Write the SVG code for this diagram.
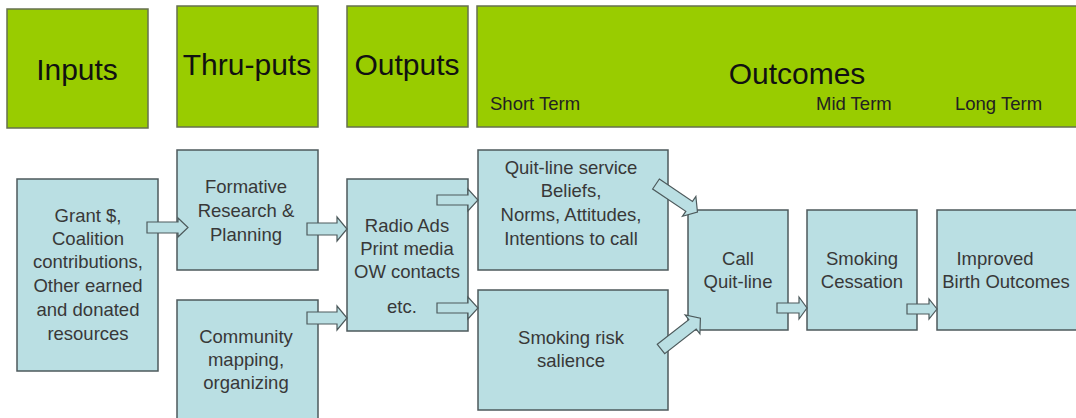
<svg xmlns="http://www.w3.org/2000/svg" width="1076" height="418" viewBox="0 0 1076 418">
<style>
.hdr{fill:#99CC00;stroke:#66704f;stroke-width:1.5}
.box{fill:#BADFE3;stroke:#4d5a5c;stroke-width:1.5}
.arr{fill:#BADFE3;stroke:#4d5a5c;stroke-width:1.2}
.ht{font-family:"Liberation Sans",Arial,sans-serif;font-size:30px;fill:#111;text-anchor:middle}
.st{font-family:"Liberation Sans",Arial,sans-serif;font-size:18.5px;fill:#222}
.t{font-family:"Liberation Sans",Arial,sans-serif;font-size:18.5px;fill:#383838;text-anchor:middle}
</style>
<rect width="1076" height="418" fill="#fff"/>
<g id="hdr-inputs"><rect class="hdr" x="7" y="9" width="141" height="119"/><text class="ht" x="77" y="80">Inputs</text></g>
<g id="hdr-thruputs"><rect class="hdr" x="177" y="6" width="141" height="121"/><text class="ht" x="247" y="75">Thru-puts</text></g>
<g id="hdr-outputs"><rect class="hdr" x="347" y="6" width="121" height="121"/><text class="ht" x="407" y="75">Outputs</text></g>
<g id="hdr-outcomes"><rect class="hdr" x="477" y="6" width="610" height="121"/><text class="ht" x="797" y="84">Outcomes</text>
<text class="st" x="490" y="110">Short Term</text><text class="st" x="816" y="110">Mid Term</text><text class="st" x="955" y="110">Long Term</text></g>

<g id="grant"><rect class="box" x="17" y="179" width="141" height="192"/>
<text class="t" x="88" y="222">Grant $,</text><text class="t" x="88" y="245">Coalition</text><text class="t" x="88" y="268">contributions,</text><text class="t" x="88" y="292">Other earned</text><text class="t" x="88" y="316">and donated</text><text class="t" x="88" y="340">resources</text></g>
<g id="formative"><rect class="box" x="177" y="150" width="141" height="120"/>
<text class="t" x="246" y="193">Formative</text><text class="t" x="246" y="217">Research &amp;</text><text class="t" x="246" y="241">Planning</text></g>
<g id="community"><rect class="box" x="177" y="300" width="141" height="125"/>
<text class="t" x="246" y="343">Community</text><text class="t" x="246" y="366">mapping,</text><text class="t" x="246" y="389">organizing</text></g>
<g id="radio"><rect class="box" x="347" y="179" width="121" height="152"/>
<text class="t" x="407" y="232">Radio Ads</text><text class="t" x="407" y="255">Print media</text><text class="t" x="407" y="278">OW contacts</text><text class="t" x="402" y="313">etc.</text></g>
<g id="quitline-service"><rect class="box" x="478" y="150" width="190" height="120"/>
<text class="t" x="571" y="174">Quit-line  service</text><text class="t" x="571" y="197">Beliefs,</text><text class="t" x="571" y="221">Norms, Attitudes,</text><text class="t" x="571" y="245">Intentions  to call</text></g>
<g id="risk"><rect class="box" x="478" y="290" width="190" height="120"/>
<text class="t" x="571" y="344">Smoking risk</text><text class="t" x="571" y="367">salience</text></g>
<g id="call"><rect class="box" x="688" y="210" width="100" height="120"/>
<text class="t" x="738" y="265">Call</text><text class="t" x="738" y="288">Quit-line</text></g>
<g id="cessation"><rect class="box" x="807" y="210" width="110" height="120"/>
<text class="t" x="862" y="265">Smoking</text><text class="t" x="862" y="288">Cessation</text></g>
<g id="improved"><rect class="box" x="937" y="210" width="145" height="120"/>
<text class="t" x="995" y="265">Improved</text><text class="t" x="1006" y="288">Birth Outcomes</text></g>

<g id="connectors">
<path class="arr" d="M147,222 H178 V218 L188,227.5 L178,237 V233 H147 Z"/>
<path class="arr" d="M307,223 H337 V217 L347,229 L337,241 V235 H307 Z"/>
<path class="arr" d="M307,312 H337 V306 L347,318 L337,330 V324 H307 Z"/>
<path class="arr" d="M437,195 H468 V189 L478,200 L468,211 V205 H437 Z"/>
<path class="arr" d="M437,303 H468 V297 L478,308 L468,319 V313 H437 Z"/>
<path class="arr" transform="translate(656,184) rotate(34)" d="M0,-6 H40 V-12 L50,0 L40,12 V6 H0 Z"/>
<path class="arr" transform="translate(661,349) rotate(-38)" d="M0,-6 H40 V-12 L50,0 L40,12 V6 H0 Z"/>
<path class="arr" d="M777,303 H799 V297 L807,308 L799,319 V313 H777 Z"/>
<path class="arr" d="M907,304 H929 V299 L937,309 L929,319 V314 H907 Z"/>
</g>
</svg>
